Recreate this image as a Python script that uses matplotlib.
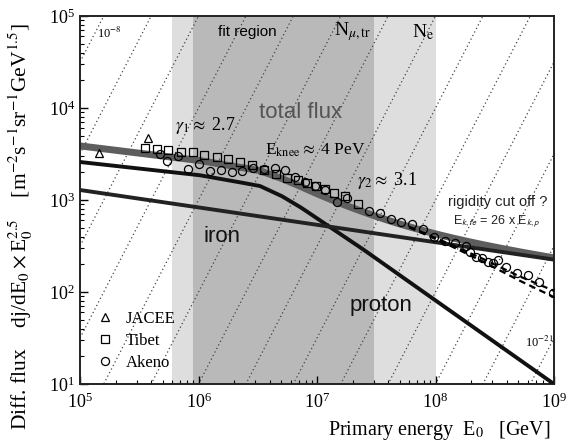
import matplotlib
matplotlib.use("Agg")
import matplotlib.pyplot as plt
import numpy as np


# two-component model, flux x E^2.5 read at a few knots (log-log polyline)
proton_E = [1e5, 1e6, 2e6, 3.3e6, 5e6, 7.2e6, 2.3e7, 1e9]
proton_F = [2590, 1870, 1600, 1420, 1110, 840, 308, 10]
iron_E = [1e5, 1e9]
iron_F = [1285, 225]

# total flux with an iron rigidity cut off (two variants)
cut_E = [6e7, 1.2e8, 2.5e8, 5e8, 1e9]
cut_hi_F = [512, 350, 230, 150, 103]
cut_lo_F = [505, 340, 215, 135, 88]

# measurements
jacee_E = [1.45e5, 3.75e5]
jacee_F = [3245, 4720]

tibet_E = [3.54e5, 4.47e5, 5.53e5, 7.12e5, 8.99e5, 1.11e6, 1.43e6, 1.77e6, 2.24e6, 2.83e6,
           3.57e6, 4.51e6, 5.58e6, 6.92e6, 8.24e6, 9.82e6, 1.17e7, 1.39e7, 1.72e7, 2.22e7]
tibet_F = [3670, 3580, 3490, 3320, 3320, 3080, 2930, 2790, 2590, 2400,
           2120, 1920, 1730, 1650, 1530, 1420, 1320, 1190, 1110, 905]

akeno_E = [4.73e5, 5.42e5, 6.71e5, 8.15e5, 1.01e6, 1.25e6, 1.55e6, 1.92e6, 2.33e6, 2.88e6,
           3.57e6, 4.43e6, 5.37e6, 6.52e6, 7.93e6, 9.62e6, 1.17e7, 1.48e7, 1.79e7, 2.75e7,
           3.40e7, 4.21e7, 5.12e7, 6.34e7, 7.85e7, 9.70e7, 1.20e8, 1.46e8, 1.81e8, 1.95e8,
           2.20e8, 2.47e8, 2.77e8, 3.05e8, 3.37e8, 3.94e8, 4.88e8, 6.04e8, 7.46e8, 9.82e8]
akeno_F = [3160, 2650, 3010, 2170, 2460, 2070, 2120, 2010, 2070, 2230,
           2170, 2230, 2120, 1780, 1570, 1420, 1290, 951, 1050, 759,
           723, 621, 577, 548, 484, 396, 358, 341, 316, 272,
           240, 234, 212, 207, 223, 187, 161, 153, 129, 97.5]

# lines of constant dJ/dE  [m^-2 s^-1 sr^-1 GeV^-1]
iso_exponents = list(range(-8, -22, -1))

# detector ranges
ne_range = [6e5, 1e8]
nmu_range = [9e5, 3e7]

SERIF = ["Liberation Serif", "DejaVu Serif"]
SANS = ["Liberation Sans", "DejaVu Sans"]

plt.rcParams["font.family"] = SERIF
plt.rcParams["mathtext.fontset"] = "stix"


def loglog_interp(x, xp, fp):
    return 10 ** np.interp(np.log10(x), np.log10(xp), np.log10(fp))


fig = plt.figure(figsize=(5.85, 4.44), dpi=100)
ax = fig.add_axes([0.1368, 0.1351, 0.8102, 0.8288])
ax.set_xscale("log")
ax.set_yscale("log")
ax.set_xlim(1e5, 1e9)
ax.set_ylim(10, 1e5)

ax.axvspan(*ne_range, color="#dedede", lw=0, zorder=0)
ax.axvspan(*nmu_range, color="#b9b9b9", lw=0, zorder=0)

grid_E = np.logspace(5, 9, 400)
for k in iso_exponents:
    ax.plot(grid_E, 10.0 ** k * grid_E ** 2.5, color="#444444", lw=0.9,
            ls=(0, (1, 2.2)), zorder=1)

p = loglog_interp(grid_E, proton_E, proton_F)
fe = loglog_interp(grid_E, iron_E, iron_F)
ax.plot(grid_E, p + fe, color="#5e5e5e", lw=5, solid_capstyle="butt", zorder=2)
ax.plot(grid_E, p, color="#111111", lw=2.8, zorder=3)
ax.plot(grid_E, fe, color="#222222", lw=2.8, zorder=3)

ax.plot(cut_E, cut_hi_F, color="black", lw=1.6, ls=(0, (3, 2)), zorder=3)
ax.plot(cut_E, cut_lo_F, color="black", lw=1.6, ls=(0, (3, 2)), zorder=3)

mk = dict(ls="none", mfc="none", mec="black", mew=0.9, ms=5.8, zorder=4)
ax.plot(jacee_E, jacee_F, marker="^", label="JACEE", **mk)
ax.plot(tibet_E, tibet_F, marker="s", label="Tibet", **mk)
ax.plot(akeno_E, akeno_F, marker="o", label="Akeno", **mk)

leg = ax.legend(loc="lower left", bbox_to_anchor=(0.003, -0.005), frameon=False,
                handlelength=1.0, handletextpad=0.75, labelspacing=0.35,
                prop={"family": SERIF, "size": 12})

# annotations
ax.text(1.39e5, 6.5e4, r"10$^{-8}$", fontsize=9, ha="left", va="center")
ax.text(5.69e8, 28.6, r"10$^{-21}$", fontsize=9, ha="left", va="center")
ax.text(2.56e6, 6.7e4, "fit region", family=SANS, fontsize=11, ha="center", va="center")
ax.text(2.01e7, 6.7e4, r"N$_{\mu,\mathrm{tr}}$", fontsize=14, ha="center", va="center")
ax.text(7.85e7, 6.7e4, r"N$_\mathrm{e}$", fontsize=14, ha="center", va="center")
ax.text(7.33e6, 8830, "total flux", family=SANS, fontsize=16, color="#555555",
        ha="center", va="center")
ax.text(6.34e5, 6530, r"$\gamma_1 \approx$ 2.7", fontsize=13, ha="left", va="center")
ax.text(3.64e6, 3490, r"E$_\mathrm{knee} \approx$ 4 PeV", fontsize=12.5, ha="left", va="center")
ax.text(2.18e7, 1650, r"$\gamma_2 \approx$ 3.1", fontsize=13, ha="left", va="center")
ax.text(3.37e8, 951, "rigidity cut off ?", family=SANS, fontsize=10.5, color="#222222",
        ha="center", va="center")
ax.text(3.3e8, 577, r"E$_{\mathsf{k,fe}}$ = 26 x E$_{\mathsf{k,p}}$", family=SANS,
        fontsize=9, color="#222222", ha="center", va="center")
ax.text(1.58e6, 406, "iron", family=SANS, fontsize=16, color="#111111",
        ha="center", va="center")
ax.text(3.47e7, 72, "proton", family=SANS, fontsize=16, color="#111111",
        ha="center", va="center")

ax.tick_params(which="both", direction="in", top=False, right=False, labelsize=13)
ax.tick_params(which="major", length=6, width=1.0)
ax.tick_params(which="minor", length=3, width=0.8)
ax.tick_params(axis="x", pad=6)
for s in ax.spines.values():
    s.set_linewidth(1.4)
    s.set_color("#222222")

fig.text(550 / 585, 14 / 444, r"Primary energy  E$_0$   [GeV]", fontsize=14.5,
         ha="right", va="center")
fig.text(0.036, 0.49,
         r"Diff. flux    dj/dE$_0\times$E$_0^{2.5}$    [m$^{-2}$s$^{-1}$sr$^{-1}$GeV$^{1.5}$]",
         rotation=90, ha="center", va="center", fontsize=15.5)

fig.savefig("out.png", dpi=100)
